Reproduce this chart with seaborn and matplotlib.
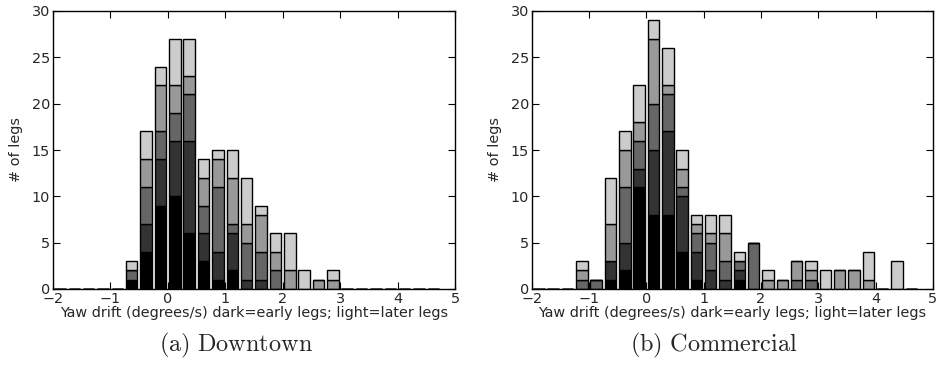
import numpy as np
import pandas as pd
import matplotlib
matplotlib.use("Agg")
import matplotlib.pyplot as plt
import seaborn as sns

# ---- data ----
bin_edges = [-2 + 0.25 * k for k in range(28)]  # -2 ... 4.75
layers = ["leg group 1", "leg group 2", "leg group 3", "leg group 4", "leg group 5"]
layer_colors = ["#000000", "#333333", "#666666", "#999999", "#cccccc"]

down_centers = [-0.625, -0.375, -0.125, 0.125, 0.375, 0.625, 0.875, 1.125,
                1.375, 1.625, 1.875, 2.125, 2.375, 2.625, 2.875]
down_l1 = [1, 4, 9, 10, 6, 3, 1, 2, 0, 0, 0, 0, 0, 0, 0]
down_l2 = [0, 3, 5, 6, 10, 3, 3, 4, 1, 1, 0, 0, 0, 0, 0]
down_l3 = [1, 4, 3, 3, 5, 3, 7, 1, 4, 3, 2, 0, 0, 0, 0]
down_l4 = [0, 3, 5, 3, 2, 3, 3, 5, 2, 4, 2, 2, 0, 1, 1]
down_l5 = [1, 3, 2, 5, 4, 2, 1, 3, 5, 1, 2, 4, 2, 0, 1]

comm_centers = [-1.125, -0.875, -0.625, -0.375, -0.125, 0.125, 0.375, 0.625,
                0.875, 1.125, 1.375, 1.625, 1.875, 2.125, 2.375, 2.625,
                2.875, 3.125, 3.375, 3.625, 3.875, 4.375]
comm_l1 = [0, 0, 1, 2, 11, 8, 8, 4, 1, 0, 0, 1, 0, 0, 0, 0, 0, 0, 0, 0, 0, 0]
comm_l2 = [0, 0, 2, 3, 2, 7, 9, 6, 3, 2, 1, 1, 0, 0, 0, 0, 0, 0, 0, 0, 0, 0]
comm_l3 = [1, 1, 0, 6, 3, 5, 4, 1, 2, 3, 2, 1, 5, 0, 0, 1, 1, 0, 0, 0, 0, 0]
comm_l4 = [1, 0, 4, 4, 2, 7, 1, 2, 1, 1, 3, 0, 0, 1, 1, 2, 1, 0, 2, 2, 1, 0]
comm_l5 = [1, 0, 5, 2, 4, 2, 4, 2, 1, 2, 2, 1, 0, 1, 0, 0, 1, 2, 0, 0, 3, 3]

y_ticks = [0, 5, 10, 15, 20, 25, 30]
x_ticks = [-2, -1, 0, 1, 2, 3, 4, 5]
xlabel = "Yaw drift (degrees/s) dark=early legs; light=later legs"
ylabel = "# of legs"
captions = [r"$\mathrm{(a)\ Downtown}$", r"$\mathrm{(b)\ Commercial}$"]


def make_df(centers, series):
    rows = []
    for name, vals in zip(layers, series):
        for c, v in zip(centers, vals):
            rows.append({"x": c, "count": v, "layer": name})
    return pd.DataFrame(rows)


df_down = make_df(down_centers, [down_l1, down_l2, down_l3, down_l4, down_l5])
df_comm = make_df(comm_centers, [comm_l1, comm_l2, comm_l3, comm_l4, comm_l5])

sns.set_style("ticks")
plt.rcParams["font.family"] = ["DejaVu Sans"]
plt.rcParams["mathtext.fontset"] = "cm"

fig = plt.figure(figsize=(9.36, 3.69), dpi=100)
ax1 = fig.add_axes([52.7 / 936, 80 / 369, 402.3 / 936, 278 / 369])
ax2 = fig.add_axes([531.7 / 936, 80 / 369, 401.1 / 936, 278 / 369])

palette = dict(zip(layers, layer_colors))
# seaborn stacks the first hue level on top, so reverse to put dark at bottom
hue_order = layers[::-1]

for ax, df in [(ax1, df_down), (ax2, df_comm)]:
    sns.histplot(data=df, x="x", weights="count", hue="layer",
                 hue_order=hue_order, palette=palette, multiple="stack",
                 bins=bin_edges, shrink=0.8, edgecolor="black", linewidth=1.0,
                 alpha=1.0, legend=False, ax=ax)
    ax.set_xlim(-2, 5)
    ax.set_ylim(0, 30)
    ax.set_xticks(x_ticks)
    ax.set_yticks(y_ticks)
    ax.tick_params(direction="in", top=True, right=True, length=5,
                   width=0.8, labelsize=10.4, pad=2, color="black")
    ax.set_xlabel(xlabel, fontsize=10.4, labelpad=0)
    ax.set_ylabel(ylabel, fontsize=10.4, labelpad=6)
    for s in ax.spines.values():
        s.set_visible(True)
        s.set_linewidth(1.0)
        s.set_color("black")

fig.text(236 / 936, 1 - 345 / 369, captions[0], ha="center",
         va="center", fontsize=17.5)
fig.text(714 / 936, 1 - 345 / 369, captions[1], ha="center",
         va="center", fontsize=17.5)

fig.savefig("out.png", dpi=100)
